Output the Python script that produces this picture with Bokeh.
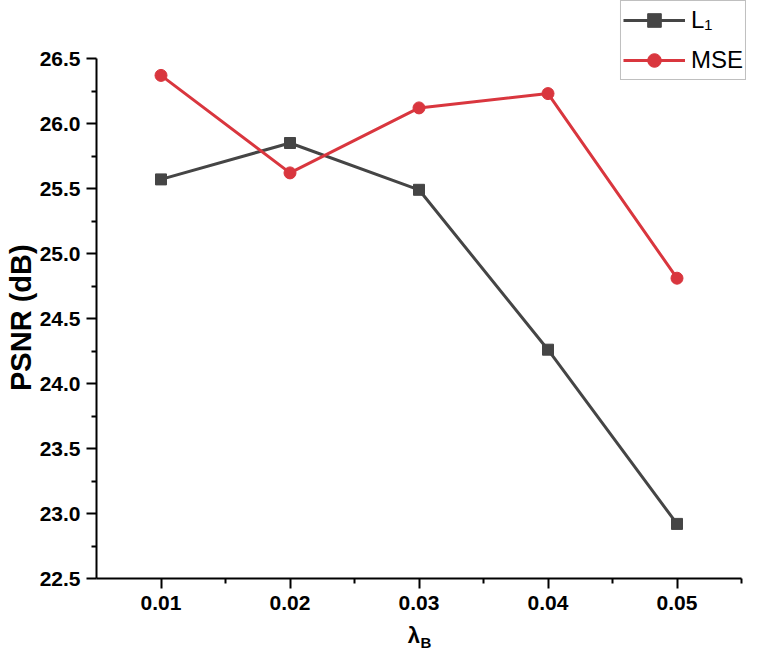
from bokeh.plotting import figure
from bokeh.layouts import column
from bokeh.models import FixedTicker, PrintfTickFormatter, Legend, LegendItem, Label, Range1d
from bokeh.embed import file_html
from bokeh.resources import INLINE

lam = [0.01, 0.02, 0.03, 0.04, 0.05]
l1 = [25.57, 25.85, 25.49, 24.26, 22.92]
mse = [26.37, 25.62, 26.12, 26.23, 24.81]
xticks = [0.01, 0.02, 0.03, 0.04, 0.05]
yticks = [22.5, 23.0, 23.5, 24.0, 24.5, 25.0, 25.5, 26.0, 26.5]

GRAY = "#454545"
RED = "#d9363e"
FONT = "Liberation Sans"

W = 746
H_MAIN = 620
H_LAB = 30
LEFT = 96
BOTTOM = 42
XS = 12900.0  # px per x unit
YS = 130.0    # px per y unit

xr = Range1d(0.005, 0.005 + (W - LEFT) / XS)
yr = Range1d(22.5, 22.5 + (H_MAIN - BOTTOM) / YS)

p = figure(width=W, height=H_MAIN, output_backend="svg", toolbar_location=None,
           x_range=xr, y_range=yr,
           min_border_left=LEFT, min_border_right=0, min_border_top=0, min_border_bottom=BOTTOM)
p.outline_line_color = None
p.xgrid.visible = False
p.ygrid.visible = False

r1 = p.line(lam, l1, line_color=GRAY, line_width=3)
m1 = p.scatter(lam, l1, marker="square", size=11, fill_color=GRAY, line_color=GRAY)
r2 = p.line(lam, mse, line_color=RED, line_width=3)
m2 = p.scatter(lam, mse, marker="circle", size=12, fill_color=RED, line_color=RED)

for ax in (p.xaxis[0], p.yaxis[0]):
    ax.axis_line_width = 2
    ax.axis_line_color = "black"
    ax.major_tick_line_width = 2
    ax.minor_tick_line_width = 2
    ax.major_tick_out = 10
    ax.major_tick_in = 0
    ax.minor_tick_out = 5
    ax.minor_tick_in = 0
    ax.major_label_text_font = FONT
    ax.major_label_text_font_style = "bold"
    ax.major_label_text_font_size = "21px"
    ax.major_label_text_color = "black"

p.xaxis.bounds = (0.005, 0.055)
p.xaxis.ticker = FixedTicker(ticks=xticks, minor_ticks=[0.015, 0.025, 0.035, 0.045, 0.055])
p.xaxis.formatter = PrintfTickFormatter(format="%.2f")
p.xaxis.major_label_standoff = 7
p.yaxis.bounds = (22.5, 26.5)
p.yaxis.ticker = FixedTicker(ticks=yticks, minor_ticks=[22.75, 23.25, 23.75, 24.25, 24.75, 25.25, 25.75, 26.25])
p.yaxis.formatter = PrintfTickFormatter(format="%.1f")
p.yaxis.major_label_standoff = 6

p.yaxis.axis_label = "PSNR (dB)" + "\u00a0" * 7
p.yaxis.axis_label_text_font = FONT
p.yaxis.axis_label_text_font_style = "bold"
p.yaxis.axis_label_text_font_size = "29px"
p.yaxis.axis_label_text_color = "black"
p.yaxis.axis_label_standoff = 0

legend = Legend(items=[LegendItem(label="L₁", renderers=[r1, m1]),
                       LegendItem(label="MSE", renderers=[r2, m2])],
                location="top_right")
legend.label_text_font = FONT
legend.label_text_font_size = "24px"
legend.label_text_color = "black"
legend.glyph_width = 62
legend.glyph_height = 34
legend.label_height = 34
legend.spacing = 6
legend.padding = 2
legend.margin = 0
legend.label_standoff = 6
legend.border_line_color = "#808080"
legend.border_line_width = 1
legend.background_fill_alpha = 1
p.add_layout(legend, "center")

# strip below the chart carrying the x-axis title  λ_B
q = figure(width=W, height=H_LAB, output_backend="svg", toolbar_location=None,
           x_range=xr, y_range=Range1d(0, H_LAB), x_axis_location=None, y_axis_location=None,
           min_border_left=LEFT, min_border_right=0, min_border_top=0, min_border_bottom=0)
q.outline_line_color = None
q.xgrid.visible = False
q.ygrid.visible = False
q.add_layout(Label(x=0.0296, y=15, text="λ", text_font=FONT, text_font_style="bold",
                   text_font_size="22px", text_color="black",
                   text_align="center", text_baseline="middle"))
q.add_layout(Label(x=0.0296, y=15, x_offset=12, y_offset=-7, text="B", text_font=FONT,
                   text_font_style="bold", text_font_size="15px", text_color="black",
                   text_align="center", text_baseline="middle"))

layout = column(p, q, spacing=0)
open("out.html", "w").write(file_html(layout, INLINE))
